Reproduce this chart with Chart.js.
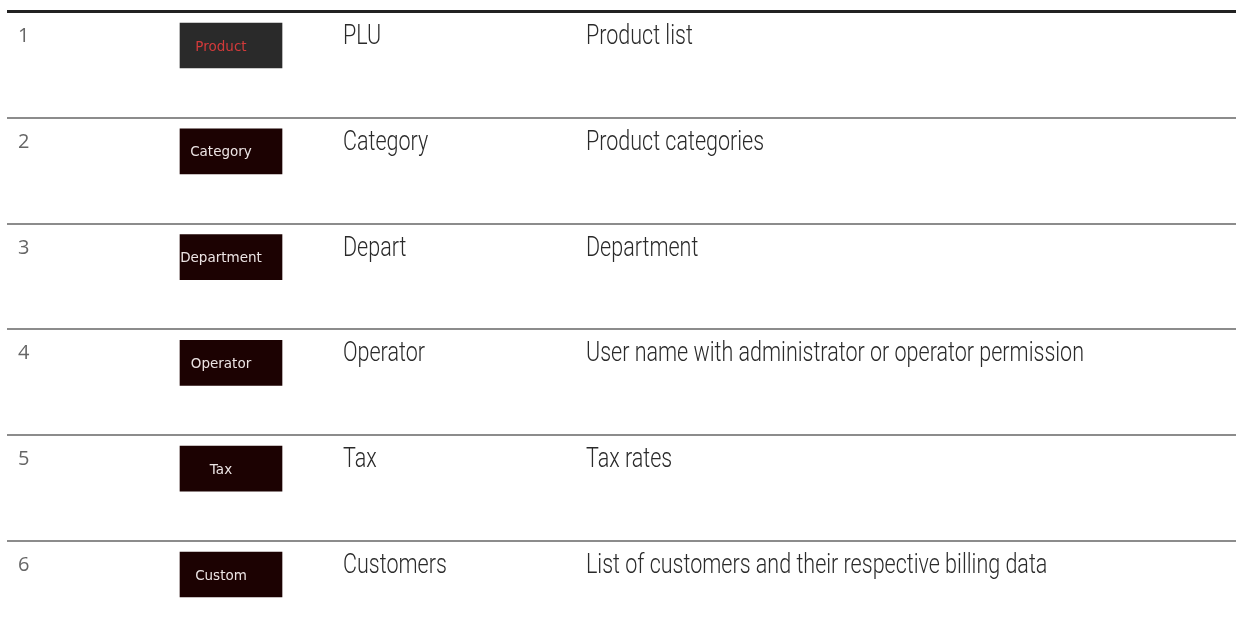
<!DOCTYPE html>
<html>
<head>
<meta charset="utf-8">
<title>Data menu</title>
<script src="https://cdn.jsdelivr.net/npm/chart.js@4/dist/chart.umd.min.js"></script>
<style>
  html, body { margin: 0; padding: 0; background: #fff; }
  #tabel { display: block; }
</style>
</head>
<body>
<canvas id="tabel" width="1236" height="639"></canvas>
<script>
// table content, one entry per row
const rowNumbers = ["1", "2", "3", "4", "5", "6"];
const buttonLabels = ["Product", "Category", "Department", "Operator", "Tax", "Custom"];
const itemNames = ["PLU", "Category", "Depart", "Operator", "Tax", "Customers"];
const descriptions = [
    "Product list",
    "Product categories",
    "Department",
    "User name with administrator or operator permission",
    "Tax rates",
    "List of customers and their respective billing data"
];

// layout (x in canvas units, row height in px)
const rowHeight = 105.8;
const firstLine = 12;
const colX = { nr: 18, button: [180, 282], name: 343, desc: 586 };
const btnTop = 11, btnHeight = 45;
const longTextWidth = 498; // width of the longest description in the picture

const H = 639;
const yMin = -firstLine / rowHeight;
const yMax = yMin + H / rowHeight;

const tekstPlugin = {
    id: 'tekst',
    afterDatasetsDraw(chart) {
        const c = chart.ctx;
        const y = chart.scales.y;
        const x = chart.scales.x;
        c.save();
        c.font = '300 27px Roboto';
        const sx = longTextWidth / c.measureText(descriptions[3]).width;
        c.restore();
        rowNumbers.forEach((nr, i) => {
            const top = y.getPixelForValue(i);
            c.save();
            c.textBaseline = 'alphabetic';
            // row number
            c.fillStyle = '#666';
            c.font = '20px "Open Sans"';
            c.textAlign = 'left';
            c.fillText(nr, x.getPixelForValue(colX.nr), top + 30);
            // button label
            c.font = '13.5px "DejaVu Sans"';
            c.textAlign = 'center';
            c.fillStyle = i === 0 ? '#d23a3a' : '#ece4e4';
            const bx = x.getPixelForValue((colX.button[0] + colX.button[1]) / 2) - 10;
            c.fillText(buttonLabels[i], bx, top + btnTop + btnHeight / 2 + 5);
            // name + description (condensed)
            c.fillStyle = '#2a2a2a';
            c.font = '300 27px Roboto';
            c.textAlign = 'left';
            c.save();
            c.scale(sx, 1);
            c.fillText(itemNames[i], x.getPixelForValue(colX.name) / sx, top + 32);
            c.fillText(descriptions[i], x.getPixelForValue(colX.desc) / sx, top + 32);
            c.restore();
            c.restore();
        });
    }
};

new Chart(document.getElementById('tabel').getContext('2d'), {
    type: 'bar',
    data: {
        labels: buttonLabels,
        datasets: [{
            label: 'knoppen',
            data: buttonLabels.map((b, i) => ({ x: colX.button, y: i + (btnTop + btnHeight / 2) / rowHeight })),
            backgroundColor: buttonLabels.map((b, i) => i === 0 ? '#2a2a2a' : '#1c0202'),
            borderWidth: 0,
            borderSkipped: false,
            barThickness: btnHeight,
            grouped: false
        }]
    },
    plugins: [tekstPlugin],
    options: {
        responsive: false,
        animation: false,
        indexAxis: 'y',
        layout: { padding: { left: 7, right: 0, top: 0, bottom: 0 } },
        plugins: {
            legend: { display: false },
            tooltip: { enabled: false },
            title: { display: false }
        },
        scales: {
            x: {
                type: 'linear',
                min: 7,
                max: 1236,
                display: false
            },
            y: {
                type: 'linear',
                reverse: true,
                offset: false,
                min: yMin,
                max: yMax,
                afterBuildTicks: (s) => { s.ticks = rowNumbers.map((n, i) => ({ value: i })); },
                ticks: { display: false },
                border: { display: false },
                grid: {
                    offset: false,
                    drawTicks: false,
                    color: (ctx) => ctx.tick && ctx.tick.value === 0 ? '#222' : '#8c8c8c',
                    lineWidth: (ctx) => ctx.tick && ctx.tick.value === 0 ? 3 : 2
                }
            }
        }
    }
});
</script>
</body>
</html>
